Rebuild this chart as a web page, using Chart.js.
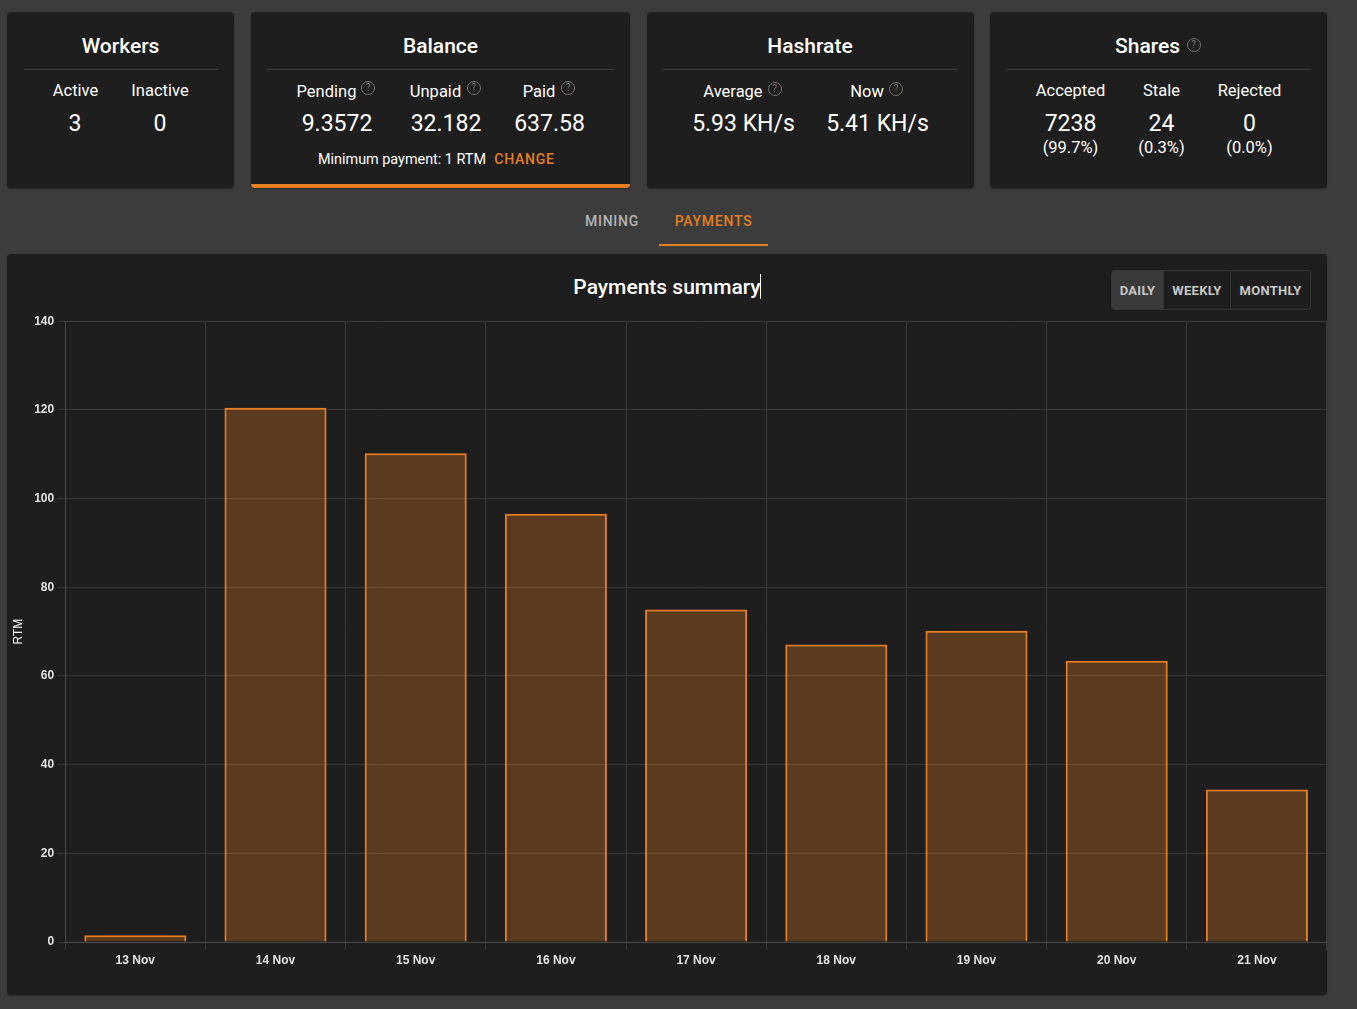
<!DOCTYPE html>
<html>
<head>
<meta charset="utf-8">
<title>Payments summary</title>
<script src="https://cdn.jsdelivr.net/npm/chart.js@4"></script>
<style>
  html, body { margin: 0; padding: 0; background: #3c3c3c; overflow: hidden; }
  body { width: 1357px; height: 1009px; position: relative; font-family: Roboto, sans-serif; color: #fff; }
  .card { position: absolute; background: #1e1e1e; border-radius: 4px; box-shadow: 0 1px 2px rgba(0,0,0,.35); box-sizing: border-box; }
  .line { position: absolute; height: 1px; background: #3d3d3d; }
  .t { position: absolute; transform: translate(-50%, -50%); white-space: nowrap; line-height: 1; }
  .title { font-size: 21px; font-weight: 500; }
  .label { font-size: 16.5px; }
  .value { font-size: 23px; }
  .pct { font-size: 16.5px; }
  .help { position: absolute; width: 12px; height: 12px; border: 1px solid #707070; border-radius: 50%; color: #707070;
          font-size: 10px; line-height: 12px; text-align: center; transform: translate(-50%, -50%); }
  .tab { font-size: 14px; font-weight: 500; letter-spacing: .75px; }
  .group { position: absolute; left: 1111px; top: 270px; width: 200px; height: 40px; box-sizing: border-box;
           border: 1px solid #353535; border-radius: 4px; display: flex; overflow: hidden; }
  .group div { box-sizing: border-box; height: 38px; line-height: 40px; text-align: center; font-size: 13px; font-weight: 700;
               letter-spacing: .3px; color: #c8c8c8; border-right: 1px solid #353535; }
  #chartBox { position: absolute; left: 7px; top: 311px; width: 1320px; height: 684px; }
</style>
</head>
<body>
  <div class="card" style="left:7px;top:12px;width:227px;height:176px"></div>
  <div class="card" style="left:251px;top:12px;width:379px;height:176px;border-bottom:4px solid #e67e22"></div>
  <div class="card" style="left:647px;top:12px;width:327px;height:176px"></div>
  <div class="card" style="left:990px;top:12px;width:337px;height:176px"></div>
  <div class="card" style="left:7px;top:254px;width:1320px;height:741px"></div>

  <div class="line" style="left:24px;top:69px;width:194px"></div>
  <div class="line" style="left:267px;top:69px;width:347px"></div>
  <div class="line" style="left:663px;top:69px;width:294px"></div>
  <div class="line" style="left:1007px;top:69px;width:304px"></div>

  <div class="t title" style="left:120.5px;top:46px">Workers</div>
  <div class="t label" style="left:75.5px;top:90.5px">Active</div>
  <div class="t label" style="left:160px;top:90.5px">Inactive</div>
  <div class="t value" style="left:75px;top:123px">3</div>
  <div class="t value" style="left:160px;top:123px">0</div>

  <div class="t title" style="left:440.5px;top:46px">Balance</div>
  <div class="t label" style="left:326.5px;top:91.5px">Pending</div>
  <div class="help" style="left:368px;top:88px">?</div>
  <div class="t label" style="left:435.5px;top:91.5px">Unpaid</div>
  <div class="help" style="left:473.5px;top:88px">?</div>
  <div class="t label" style="left:539px;top:91.5px">Paid</div>
  <div class="help" style="left:568px;top:88px">?</div>
  <div class="t value" style="left:337px;top:123px">9.3572</div>
  <div class="t value" style="left:446px;top:123px">32.182</div>
  <div class="t value" style="left:549.5px;top:123px">637.58</div>
  <div class="t" style="left:402px;top:159.5px;font-size:14.4px">Minimum payment: 1 RTM</div>
  <div class="t" style="left:524.5px;top:159px;font-size:14px;font-weight:500;letter-spacing:.75px;color:#e67e22">CHANGE</div>

  <div class="t title" style="left:810px;top:46px">Hashrate</div>
  <div class="t label" style="left:733px;top:91.5px">Average</div>
  <div class="help" style="left:774.5px;top:88.5px">?</div>
  <div class="t label" style="left:867px;top:91.5px">Now</div>
  <div class="help" style="left:896px;top:88.5px">?</div>
  <div class="t value" style="left:743.5px;top:123px">5.93 KH/s</div>
  <div class="t value" style="left:877.5px;top:123px">5.41 KH/s</div>

  <div class="t title" style="left:1147.5px;top:46px">Shares</div>
  <div class="help" style="left:1193.5px;top:45px">?</div>
  <div class="t label" style="left:1070.5px;top:90.5px">Accepted</div>
  <div class="t label" style="left:1161.5px;top:90.5px">Stale</div>
  <div class="t label" style="left:1249.5px;top:90.5px">Rejected</div>
  <div class="t value" style="left:1070.5px;top:123px">7238</div>
  <div class="t value" style="left:1161.5px;top:123px">24</div>
  <div class="t value" style="left:1249.5px;top:123px">0</div>
  <div class="t pct" style="left:1070.5px;top:147.5px">(99.7%)</div>
  <div class="t pct" style="left:1161.5px;top:147.5px">(0.3%)</div>
  <div class="t pct" style="left:1249.5px;top:147.5px">(0.0%)</div>

  <div class="t tab" style="left:612px;top:221px;color:#b4b4b4">MINING</div>
  <div class="t tab" style="left:713.5px;top:221px;color:#e67e22">PAYMENTS</div>
  <div style="position:absolute;left:659px;top:244px;width:109px;height:2px;background:#e67e22"></div>

  <div class="t title" style="left:667px;top:287px">Payments summary</div>
  <div style="position:absolute;left:760px;top:274px;width:1px;height:25px;background:#fff"></div>

  <div class="group">
    <div style="width:52px;background:#3a3a3a">DAILY</div>
    <div style="width:67px">WEEKLY</div>
    <div style="width:79px;border-right:0">MONTHLY</div>
  </div>

  <div id="chartBox"><canvas id="myChart"></canvas></div>

<script>
  const categories = ["13 Nov", "14 Nov", "15 Nov", "16 Nov", "17 Nov", "18 Nov", "19 Nov", "20 Nov", "21 Nov"];
  const payments = [1.5, 120.5, 110.2, 96.6, 75.0, 67.1, 70.2, 63.4, 34.4];
  const yTicks = [0, 20, 40, 60, 80, 100, 120, 140];

  const tickFont = { family: "'Liberation Sans', Arial, sans-serif", size: 12, weight: "bold" };

  new Chart(document.getElementById("myChart").getContext("2d"), {
    type: "bar",
    data: {
      labels: categories,
      datasets: [
        {
          label: "RTM",
          data: payments,
          backgroundColor: "rgba(230, 126, 34, 0.31)",
          borderColor: "#e67e22",
          borderWidth: 2,
          borderSkipped: "bottom",
          barPercentage: 0.91,
        },
      ],
    },
    options: {
      responsive: true,
      maintainAspectRatio: false,
      animation: false,
      layout: { padding: { top: 10 } },
      plugins: { legend: { display: false }, tooltip: { enabled: false } },
      scales: {
        x: {
          grid: { color: "#3a3a3a", tickLength: 8 },
          border: { color: "#4a4a4a" },
          ticks: { color: "#e4e4e4", font: tickFont, padding: 3, maxRotation: 0 },
          afterFit: (axis) => { axis.height = 53; },
        },
        y: {
          min: 0,
          max: 140,
          afterBuildTicks: (axis) => { axis.ticks = yTicks.map((value) => ({ value })); },
          grid: { color: "#3a3a3a", tickLength: 8 },
          border: { color: "#4a4a4a" },
          ticks: { color: "#e4e4e4", font: tickFont, padding: 3 },
          title: {
            display: true,
            text: "RTM",
            color: "#ffffff",
            font: { family: "'Liberation Sans', Arial, sans-serif", size: 12 },
            padding: { top: 4, bottom: 0 },
          },
          afterFit: (axis) => { axis.width = 58.2; },
        },
      },
    },
  });
</script>
</body>
</html>
